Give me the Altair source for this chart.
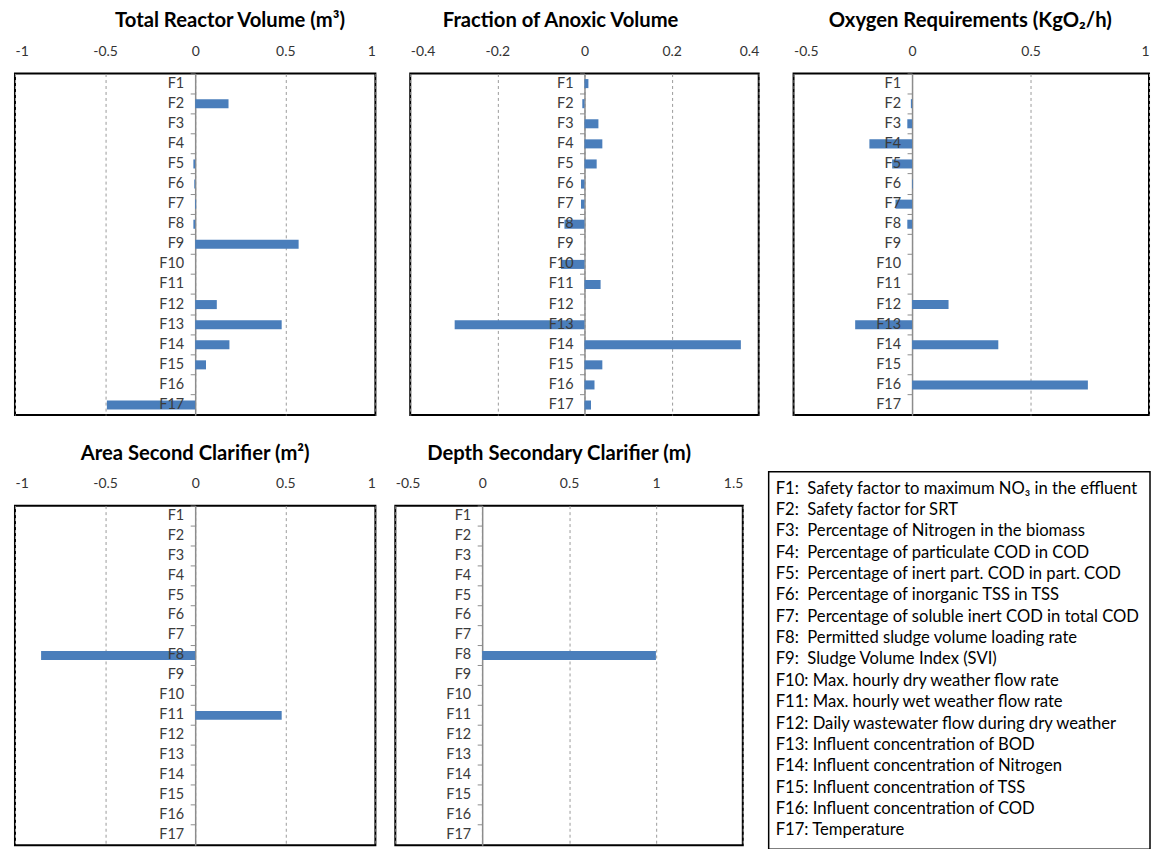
import altair as alt
import pandas as pd

FONT = "Lato"

factors = [f"F{i}" for i in range(1, 18)]

total_reactor_volume = [0, 0.185, 0, 0, -0.01, -0.005, 0.005, -0.01, 0.574, 0, 0,
                        0.12, 0.48, 0.19, 0.06, 0, -0.49]
fraction_anoxic = [0.009, -0.005, 0.032, 0.041, 0.028, -0.008, -0.008, -0.046, 0,
                   -0.054, 0.037, 0, -0.298, 0.359, 0.041, 0.023, 0.015]
oxygen_requirements = [0, -0.005, -0.02, -0.18, -0.084, 0.003, -0.07, -0.02, 0, 0, 0,
                       0.154, -0.24, 0.364, 0, 0.742, 0]
area_clarifier = [0, 0, 0, 0, 0, 0, 0, -0.855, 0, 0, 0.48, 0, 0, 0, 0, 0, 0]
depth_clarifier = [0, 0, 0, 0, 0, 0, 0, 1.0, 0, 0, 0, 0, 0, 0, 0, 0, 0]

ticks_1 = [-1, -0.5, 0, 0.5, 1]
ticks_2 = [-0.4, -0.2, 0, 0.2, 0.4]
ticks_3 = [-0.5, 0, 0.5, 1]
ticks_5 = [-0.5, 0, 0.5, 1, 1.5]

legend_lines = [
    "F1:\u00a0 Safety factor to maximum NO\u2083 in the effluent",
    "F2:\u00a0 Safety factor for SRT",
    "F3:\u00a0 Percentage of Nitrogen in the biomass",
    "F4:\u00a0 Percentage of particulate COD in COD",
    "F5:\u00a0 Percentage of inert part. COD in part. COD",
    "F6:\u00a0 Percentage of inorganic TSS in TSS",
    "F7:\u00a0 Percentage of soluble inert COD in total COD",
    "F8:\u00a0 Permitted sludge volume loading rate",
    "F9:\u00a0 Sludge Volume Index (SVI)",
    "F10: Max. hourly dry weather flow rate",
    "F11: Max. hourly wet weather flow rate",
    "F12: Daily wastewater flow during dry weather",
    "F13: Influent concentration of BOD",
    "F14: Influent concentration of Nitrogen",
    "F15: Influent concentration of TSS",
    "F16: Influent concentration of COD",
    "F17: Temperature",
]

BAR = "#4A7EBB"
AXIS_GRAY = "#8c8c8c"
H1 = 343
H2 = 341


def panel(title, values, domain, ticks, width, height, title_dx=0):
    df = pd.DataFrame({"factor": factors, "value": values})
    zero_px = width * (0 - domain[0]) / (domain[1] - domain[0])
    xenc = alt.X(
        "value:Q",
        scale=alt.Scale(domain=domain, nice=False, zero=False),
        axis=alt.Axis(
            orient="top", values=ticks, labelExpr="'' + datum.value",
            ticks=False, domain=False, grid=True, gridDash=[3, 3],
            gridColor="#9a9a9a", labelFont=FONT, labelFontSize=14,
            labelColor="#333333", labelPadding=15, title=None,
        ),
    )
    yenc = alt.Y(
        "factor:N", sort=factors,
        scale=alt.Scale(paddingInner=0, paddingOuter=0),
        axis=alt.Axis(
            labels=False, ticks=True, tickSize=5, bandPosition=0,
            domain=True, domainColor=AXIS_GRAY, tickColor=AXIS_GRAY,
            domainWidth=1.5, offset=-zero_px, title=None, grid=False,
        ),
    )
    base = alt.Chart(df)
    bars = base.mark_bar(color=BAR, height=alt.RelativeBandSize(0.45)).encode(
        x=xenc, x2=alt.datum(0), y=yenc
    )
    labels = base.mark_text(
        align="right", baseline="middle", dx=-11, font=FONT, fontSize=14.5,
        color="#3a3a3a",
    ).encode(x=alt.datum(0), y=alt.Y("factor:N", sort=factors), text="factor:N")
    return alt.layer(bars, labels).properties(
        width=width, height=height,
        title=alt.TitleParams(
            title, font=FONT, fontSize=20.3, fontWeight="bold", color="black",
            offset=13, dx=title_dx,
        ),
    )


p1 = panel("Total Reactor Volume (m\u00b3)", total_reactor_volume, [-1, 1], ticks_1, 362, H1, 35)
p2 = panel("Fraction of Anoxic Volume", fraction_anoxic, [-0.4, 0.4], ticks_2, 350, H1, -24)
p3 = panel("Oxygen Requirements (KgO\u2082/h)", oxygen_requirements, [-0.5, 1], ticks_3, 357, H1, -1)
p4 = panel("Area Second Clarifier (m\u00b2)", area_clarifier, [-1, 1], ticks_1, 362, H2, 0)
p5 = panel("Depth Secondary Clarifier (m)", depth_clarifier, [-0.5, 1.5], ticks_5, 349, H2, -10)

leg_df = pd.DataFrame({"idx": list(range(len(legend_lines))), "line": legend_lines})
leg_base = alt.Chart(leg_df)
leg_text = leg_base.mark_text(
    align="left", baseline="middle", font=FONT, fontSize=16.7, color="black"
).encode(
    x=alt.value(13),
    y=alt.Y("idx:Q", scale=alt.Scale(domain=[0, 16], range=[-17, 326]), axis=None),
    text="line:N",
)
leg_box = alt.Chart(pd.DataFrame({"a": [0]})).mark_rect(
    fill="white", fillOpacity=0, stroke="black", strokeWidth=1.5
).encode(x=alt.value(6), x2=alt.value(389), y=alt.value(-34), y2=alt.value(345))
legend = alt.layer(leg_box, leg_text).properties(
    width=384, height=H2, view=alt.ViewBackground(stroke="transparent")
)

row1 = alt.hconcat(p1, p2, p3, spacing=35, bounds="flush")
row2 = alt.hconcat(p4, p5, legend, spacing=20, bounds="flush")
chart = alt.vconcat(row1, row2, spacing=26).properties(
    padding={"left": 6, "top": 0, "right": 0, "bottom": 0}, background="white"
).configure_view(stroke="black", strokeWidth=2)

chart.save("out.html", embed_options={"renderer": "svg", "actions": False})
